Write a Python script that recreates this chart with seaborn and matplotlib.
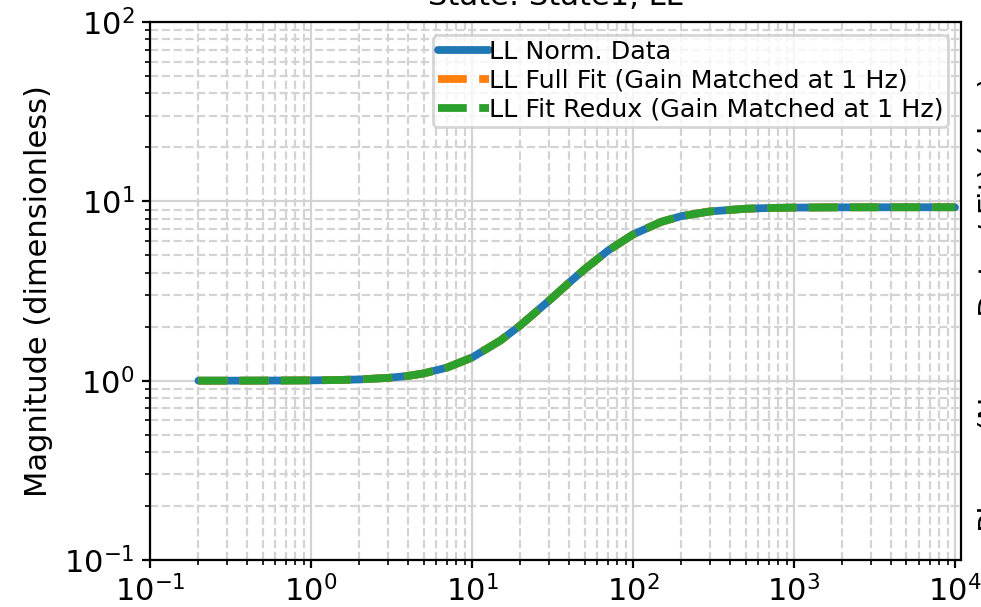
import numpy as np
import pandas as pd
import seaborn as sns
import matplotlib
matplotlib.use("Agg")
import matplotlib.pyplot as plt

# Datos (frecuencia en Hz, magnitud normalizada)
freq = [0.2, 0.3, 0.5, 0.7, 1, 1.5, 2, 3, 4, 5, 7, 10, 15, 20, 30, 40, 50, 70,
        100, 150, 200, 300, 500, 700, 1000, 2000, 5000, 10000]
mag_data = [1.0, 1.0, 1.001, 1.002, 1.004, 1.009, 1.016, 1.036, 1.063, 1.097, 1.183,
            1.345, 1.673, 2.036, 2.787, 3.511, 4.179, 5.312, 6.53, 7.687, 8.27, 8.78,
            9.09, 9.18, 9.226, 9.26, 9.27, 9.27]
mag_full = list(mag_data)
mag_redux = list(mag_data)

titulo = "State: State1, LL"
etiquetas = ["LL Norm. Data",
             "LL Full Fit (Gain Matched at 1 Hz)",
             "LL Fit Redux (Gain Matched at 1 Hz)"]

df = pd.DataFrame({"freq": freq, "data": mag_data, "full": mag_full, "redux": mag_redux})

sns.set_style("white")
plt.rcParams["font.family"] = ["DejaVu Sans"]
plt.rcParams["font.size"] = 11
for k in ["text.color", "axes.labelcolor", "xtick.color", "ytick.color", "axes.edgecolor"]:
    plt.rcParams[k] = "black"

fig = plt.figure(figsize=(4.905, 3.035), dpi=200)
ax = fig.add_axes([0.1529, 0.0774, 0.8267, 0.8864])

sns.lineplot(data=df, x="freq", y="data", ax=ax, color="#1f77b4", lw=2.8, label=etiquetas[0])
sns.lineplot(data=df, x="freq", y="full", ax=ax, color="#ff7f0e", lw=2.8, linestyle="--", label=etiquetas[1])
sns.lineplot(data=df, x="freq", y="redux", ax=ax, color="#2ca02c", lw=2.8, linestyle="--", label=etiquetas[2])

ax.set_xscale("log")
ax.set_yscale("log")
ax.set_xlim(0.1, 1.09e4)
ax.set_ylim(0.1, 100)

ax.grid(True, which="major", linestyle="-", color="#d3d3d3", lw=0.8)
ax.grid(True, which="minor", linestyle="--", color="#d3d3d3", lw=0.8)
ax.tick_params(which="both", direction="out", left=True, bottom=True, labelsize=11, pad=2.5)
ax.tick_params(which="major", length=3.0, width=0.8)
ax.tick_params(which="minor", length=1.9, width=0.6)
for s in ax.spines.values():
    s.set_color("black")
    s.set_linewidth(0.8)

ax.set_xlabel("")
ax.set_ylabel("Magnitude (dimensionless)", fontsize=11)
ax.set_title(titulo, fontsize=11)
ax.legend(loc="upper right", handletextpad=0.0, framealpha=0.8, fontsize="small",
          labelspacing=0.2, borderpad=0.2)

# etiqueta del panel vecino (cortada por el borde)
fig.text(0.9965, 0.5, "Phase (Norm. Data / Fit) (deg)", rotation=90,
         ha="left", va="center", fontsize=11)

fig.savefig("out.png", dpi=200)
